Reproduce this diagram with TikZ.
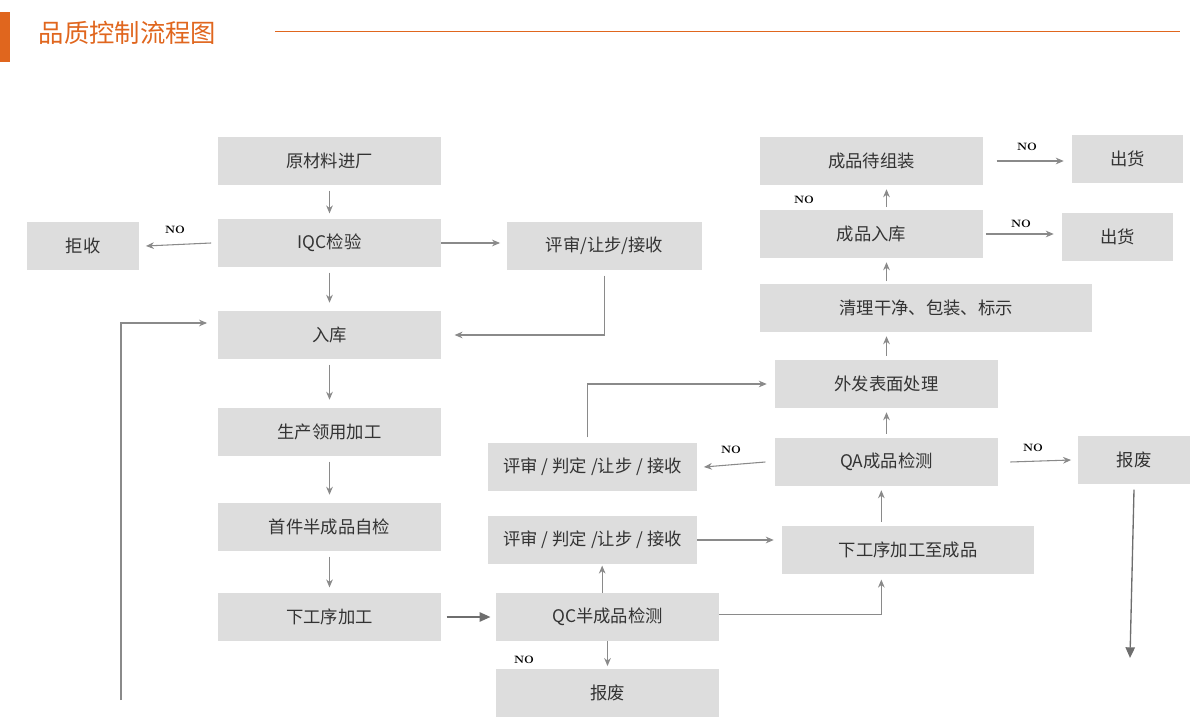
\documentclass[tikz,border=0pt]{standalone}
\usepackage{fontspec}
\newfontfamily\cjk{Noto Sans CJK SC}
\usetikzlibrary{arrows.meta}
\definecolor{boxc}{HTML}{DDDDDD}
\definecolor{txtc}{HTML}{333333}
\definecolor{linec}{HTML}{8A8A8A}
\definecolor{orangec}{HTML}{E0661E}
\begin{document}
\begin{tikzpicture}[x=0.75pt,y=-0.75pt,
  bx/.style={fill=boxc,draw=none,text=txtc,font=\cjk\fontsize{13}{15}\selectfont},
  ar/.style={draw=linec,line width=0.8pt,-{Stealth[length=6pt,width=5pt]}},
  dar/.style={draw=linec!80!black,line width=1pt,-{Triangle[length=8pt,width=7pt]}},
  no/.style={font=\bfseries\fontsize{8}{9}\selectfont,text=black}]
\useasboundingbox (0,0) rectangle (1200,723);
\fill[orangec] (0,12) rectangle (10,62);
\node[anchor=west,text=orangec,font=\cjk\fontsize{19}{22}\selectfont] (title) at (34,33) {品质控制流程图};
\draw[orangec,line width=0.7pt] (275,31) -- (1180,31);
\newcommand\bxat[6]{\node[bx,minimum width={(#4-#2)*0.75pt},minimum height={(#5-#3)*0.75pt},inner sep=0pt] (#1) at ({(#2+#4)/2},{(#3+#5)/2}) {#6};}
\bxat{a}{218}{137}{441}{185}{原材料进厂}
\bxat{iqc}{218}{219}{441}{267}{IQC检验}
\bxat{rej}{27}{222}{139}{270}{拒收}
\bxat{ps}{507}{222}{702}{270}{评审/让步/接收}
\bxat{rk}{218}{311}{441}{359}{入库}
\bxat{sc}{218}{408}{441}{456}{生产领用加工}
\bxat{sj}{218}{503}{441}{551}{首件半成品自检}
\bxat{xg}{218}{593}{441}{641}{下工序加工}
\bxat{qc}{496}{593}{719}{641}{QC半成品检测}
\bxat{bf}{496}{669}{719}{717}{报废}
\bxat{pl}{488}{516}{697}{564}{评审 / 判定 /让步 / 接收}
\bxat{pu}{488}{443}{697}{491}{评审 / 判定 /让步 / 接收}
\bxat{xc}{782}{526}{1034}{574}{下工序加工至成品}
\bxat{qa}{775}{438}{998}{486}{QA成品检测}
\bxat{bf2}{1078}{436}{1190}{484}{报废}
\bxat{wf}{775}{360}{998}{408}{外发表面处理}
\bxat{ql}{760}{284}{1092}{332}{清理干净、包装、标示}
\bxat{cr}{760}{210}{983}{258}{成品入库}
\bxat{ch1}{1062}{213}{1173}{261}{出货}
\bxat{dz}{760}{137}{983}{185}{成品待组装}
\bxat{ch2}{1072}{135}{1183}{183}{出货}
\coordinate (l0) at (121,700);
\coordinate (l1) at (121,323);
\coordinate (dn) at (1130,658);
\draw[ar] ([yshift=-4pt]a.south) -- ([yshift=4pt]iqc.north);
\draw[ar] ([xshift=-5pt]iqc.west) -- ([xshift=5pt]rej.east);
\node[no] at (175,230) {NO};
\draw[ar] (iqc.east) -- ([xshift=-5pt]ps.west |- iqc.east);
\draw[ar] ([yshift=-4pt]iqc.south) -- ([yshift=6pt]rk.north);
\draw[ar] ([yshift=-4pt]ps.south) |- ([xshift=10pt]rk.east);
\draw[ar] (l0) -- (l1) -- ([xshift=-8pt]rk.west |- l1);
\draw[ar] ([yshift=-4pt]rk.south) -- ([yshift=6pt]sc.north);
\draw[ar] ([yshift=-4pt]sc.south) -- ([yshift=6pt]sj.north);
\draw[ar] ([yshift=-4pt]sj.south) -- ([yshift=4pt]xg.north);
\draw[dar] ([xshift=4pt]xg.east) -- ([xshift=-4pt]qc.west);
\draw[ar] (qc.south) -- ([yshift=2pt]bf.north);
\node[no] at (524,660) {NO};
\draw[ar] ([xshift=-4pt]qc.north) -- ([xshift=-4pt,yshift=-1pt]qc.north |- pl.south);
\draw[ar] (pl.east) -- ([xshift=-6pt]xc.west |- pl.east);
\draw[ar] ([yshift=2pt]qc.east) -| ([xshift=-20pt,yshift=-4pt]xc.south);
\draw[ar] ([xshift=-20pt,yshift=3pt]xc.north) -- ([xshift=-20pt,yshift=-3pt]xc.north |- qa.south) coordinate (t1);
\draw[ar] ([xshift=-7pt]qa.west) -- ([xshift=5pt]pu.east);
\node[no] at (731,450) {NO};
\draw[ar] ([xshift=-4pt,yshift=4pt]pu.north) |- ([xshift=-6pt]wf.west);
\draw[ar] ([xshift=9pt]qa.east) -- ([xshift=-5pt]bf2.west);
\node[no] at (1033,448) {NO};
\draw[dar] ([yshift=-4pt]bf2.south) -- (dn);
\draw[ar] ([yshift=3pt]qa.north) -- ([yshift=-3pt]wf.south);
\draw[ar] ([yshift=3pt]wf.north) -- ([yshift=-3pt]wf.north |- ql.south);
\draw[ar] ([yshift=2pt]wf.north |- ql.north) -- ([yshift=-3pt]wf.north |- cr.south);
\draw[ar] ([xshift=2pt]cr.east) -- ([xshift=-6pt]ch1.west |- cr.east);
\node[no] at (1021,224) {NO};
\draw[ar] ([yshift=2pt]wf.north |- cr.north) -- ([yshift=-3pt]wf.north |- dz.south);
\node[no] at (804,200) {NO};
\draw[ar] ([xshift=10pt]dz.east) -- ([xshift=-6pt]ch2.west |- dz.east);
\node[no] at (1027,147) {NO};
\end{tikzpicture}
\end{document}
